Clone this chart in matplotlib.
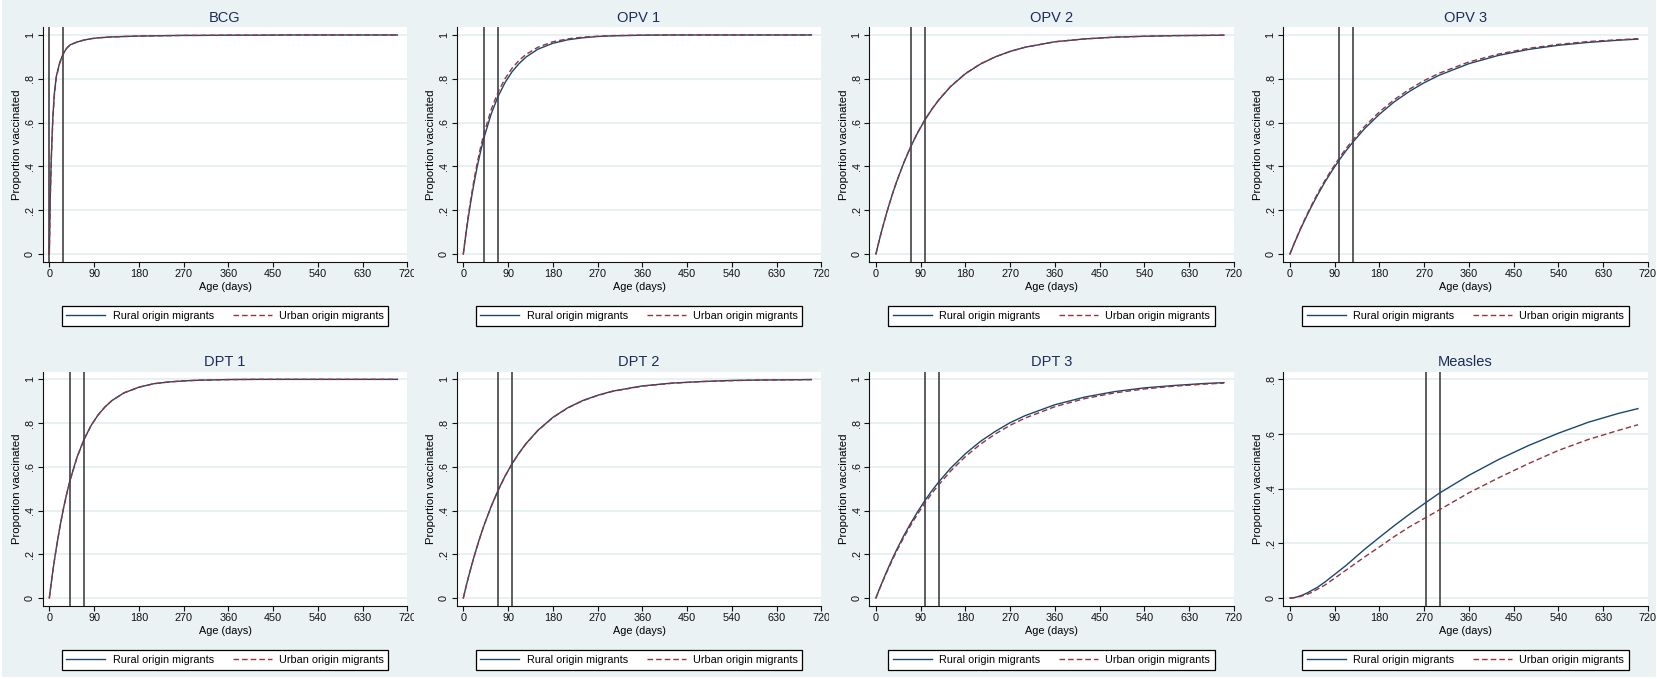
import numpy as np
import matplotlib
matplotlib.use("Agg")
import matplotlib.pyplot as plt
from matplotlib.transforms import Bbox, TransformedBbox

# age grid (days) shared by all curves
days = [0, 2, 4, 7, 10, 14, 21, 28, 35, 42, 56, 70, 84, 98, 112, 126, 150,
        180, 210, 240, 270, 300, 360, 420, 480, 540, 600, 660, 700]

# proportion vaccinated, rural vs urban origin migrants
bcg_rural = [0, .27, .44, .62, .73, .81, .875, .915, .94, .955, .968, .977, .983, .987, .989,
             .991, .993, .995, .996, .997, .998, .998, .999, .999, 1, 1, 1, 1, 1]
bcg_urban = [0, .26, .43, .61, .72, .805, .872, .913, .939, .955, .968, .977, .983, .987, .989,
             .991, .993, .995, .996, .997, .998, .998, .999, .999, 1, 1, 1, 1, 1]

opv1_rural = [0, .036, .070, .120, .166, .225, .317, .399, .471, .534, .639, .720, .783, .832, .869,
              .899, .935, .962, .978, .987, .993, .996, .999, 1, 1, 1, 1, 1, 1]
opv1_urban = [0, .038, .074, .126, .175, .236, .332, .416, .490, .554, .659, .740, .801, .848, .884,
              .911, .944, .969, .982, .990, .994, .997, .999, 1, 1, 1, 1, 1, 1]

opv2_rural = [0, .019, .038, .065, .092, .126, .183, .236, .286, .332, .416, .490, .554, .610, .659,
              .702, .764, .823, .867, .900, .925, .944, .969, .982, .990, .994, .997, .998, .999]
opv2_urban = [0, .019, .038, .065, .092, .126, .183, .236, .286, .333, .417, .491, .555, .611, .660,
              .703, .765, .824, .868, .900, .925, .944, .969, .982, .990, .994, .997, .998, .999]

opv3_rural = [0, .011, .022, .039, .055, .076, .112, .146, .179, .211, .271, .327, .378, .425, .469,
              .509, .572, .638, .695, .742, .782, .816, .869, .907, .934, .953, .966, .976, .981]
opv3_urban = [0, .012, .023, .040, .056, .078, .115, .150, .184, .216, .278, .334, .386, .434, .479,
              .519, .582, .649, .705, .752, .792, .825, .877, .913, .939, .957, .970, .978, .983]

dpt1_rural = [0, .036, .071, .122, .169, .228, .322, .405, .477, .541, .646, .726, .789, .837, .874,
              .903, .938, .964, .980, .988, .993, .996, .999, 1, 1, 1, 1, 1, 1]
dpt1_urban = [0, .036, .071, .121, .168, .227, .321, .404, .476, .540, .645, .726, .789, .837, .874,
              .903, .938, .964, .980, .988, .993, .996, .999, 1, 1, 1, 1, 1, 1]

dpt2_rural = [0, .019, .038, .066, .093, .127, .184, .238, .288, .335, .419, .493, .558, .614, .663,
              .706, .767, .826, .870, .903, .927, .946, .970, .983, .990, .995, .997, .998, .999]
dpt2_urban = [0, .019, .038, .066, .093, .127, .184, .237, .287, .334, .418, .492, .557, .613, .662,
              .705, .766, .825, .869, .902, .926, .945, .969, .982, .990, .994, .997, .998, .999]

dpt3_rural = [0, .012, .024, .041, .058, .080, .118, .154, .189, .222, .285, .342, .395, .444, .489,
              .530, .593, .660, .716, .762, .802, .834, .884, .919, .944, .961, .972, .981, .985]
dpt3_urban = [0, .012, .023, .040, .056, .078, .114, .149, .183, .216, .277, .333, .385, .432, .477,
              .517, .580, .647, .703, .750, .790, .823, .875, .912, .938, .956, .969, .978, .983]

measles_rural = [0, 0, .0005, .001, .002, .004, .008, .013, .019, .026, .040, .058, .078, .098, .118,
                 .140, .178, .222, .265, .306, .345, .383, .449, .507, .558, .603, .643, .675, .693]
measles_urban = [0, 0, .0004, .001, .002, .003, .006, .010, .014, .019, .033, .047, .065, .083, .101,
                 .119, .150, .187, .225, .260, .291, .322, .385, .440, .492, .540, .580, .613, .634]

vaccines = ["BCG", "OPV 1", "OPV 2", "OPV 3", "DPT 1", "DPT 2", "DPT 3", "Measles"]
rural = [bcg_rural, opv1_rural, opv2_rural, opv3_rural, dpt1_rural, dpt2_rural, dpt3_rural, measles_rural]
urban = [bcg_urban, opv1_urban, opv2_urban, opv3_urban, dpt1_urban, dpt2_urban, dpt3_urban, measles_urban]
# recommended age window for each dose (days)
windows = [(0, 28), (42, 70), (70, 98), (98, 126), (42, 70), (70, 98), (98, 126), (273, 301)]

x_ticks = [0, 90, 180, 270, 360, 450, 540, 630, 720]

BG = "#eaf2f3"
GRID = "#e6eff1"
NAVY = "#1a476f"
MAROON = "#90353b"
TITLE = "#1c2c5c"

plt.rcParams["font.family"] = ["Liberation Sans", "DejaVu Sans"]

W, H = 1658, 679
fig = plt.figure(figsize=(W / 100, H / 100), dpi=100, facecolor="white")
fig.patches.append(plt.Rectangle((2 / W, 2 / H), (W - 4) / W, (H - 2) / H, transform=fig.transFigure,
                                 facecolor=BG, edgecolor="none", zorder=-10))

col_left = [42.7, 456.7, 869.3, 1283.3]
row_top = [27.3, 371.7]
row_bot = [261.7, 605.7]
plot_w = 364.6
panel_w = W / 4

for i, name in enumerate(vaccines):
    r, c = divmod(i, 4)
    left, top, bot = col_left[c], row_top[r], row_bot[r]
    ax = fig.add_axes([left / W, 1 - bot / H, plot_w / W, (bot - top) / H])
    ax.set_facecolor("white")

    ymax = 0.8 if name == "Measles" else 1.0
    ax.yaxis.grid(True, color=GRID, lw=1.3)
    ax.set_axisbelow(True)

    for xv in windows[i]:
        ax.axvline(xv, color="#333333", lw=1.1, zorder=2)
    ax.plot(days, rural[i], color=NAVY, lw=1.0, label="Rural origin migrants", zorder=3)
    ax.plot(days, urban[i], color=MAROON, lw=1.0, ls=(0, (4, 2.2)), label="Urban origin migrants", zorder=4)

    ax.set_xlim(-13.3, 720)
    ax.set_ylim(-0.035 * ymax, ymax * 1.035)
    ax.set_xticks(x_ticks)
    yt = np.round(np.arange(0, ymax + 0.01, 0.2), 1)
    ax.set_yticks(yt)
    ax.set_yticklabels(["0" if v == 0 else ("1" if v == 1 else ("%.1f" % v)[1:]) for v in yt],
                       rotation=90, va="center")
    ax.tick_params(length=3.6, width=0.8, pad=2, labelsize=7.8, colors="#111111")

    for s in ["top", "right"]:
        ax.spines[s].set_visible(False)
    for s in ["left", "bottom"]:
        ax.spines[s].set_linewidth(0.8)
        ax.spines[s].set_color("#111111")

    ax.set_title(name, fontsize=10.5, color=TITLE, pad=4)
    ax.set_xlabel("Age (days)", fontsize=7.8, labelpad=1.5)
    ax.set_ylabel("Proportion vaccinated", fontsize=8.2, labelpad=2)

    leg = ax.legend(loc="upper center", bbox_to_anchor=(0.5, -0.166), ncol=2, frameon=True,
                    fancybox=False, edgecolor="black", framealpha=1, fontsize=7.8,
                    handlelength=3.6, handletextpad=0.65, columnspacing=1.75, borderpad=0.45)
    leg.get_frame().set_linewidth(0.9)

    # keep tick labels inside their own panel
    clip = TransformedBbox(Bbox.from_extents(c * panel_w / W, 0, (c + 1) * panel_w / W, 1), fig.transFigure)
    for lab in ax.get_xticklabels():
        lab.set_clip_box(clip)
        lab.set_clip_on(True)

fig.savefig("out.png", dpi=100, facecolor=fig.get_facecolor())
